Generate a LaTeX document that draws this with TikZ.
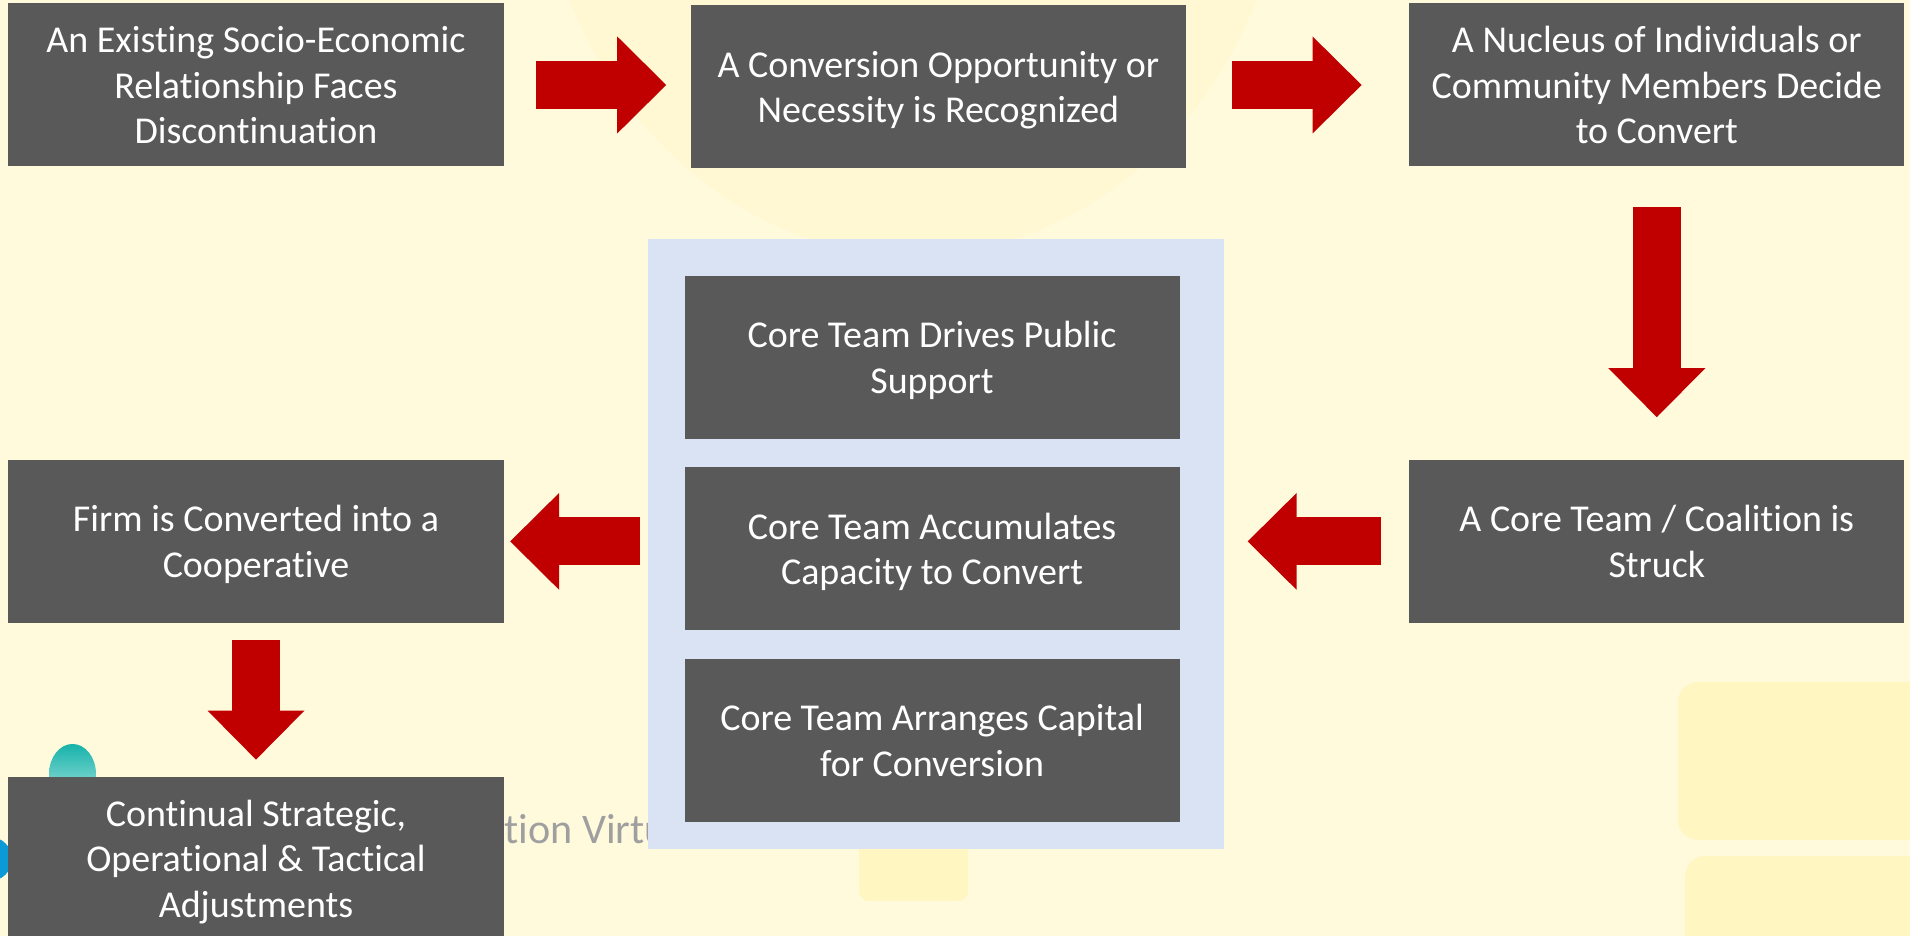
\documentclass[tikz,border=0pt]{standalone}
\usepackage{fontspec}
\setmainfont{Carlito}[Ligatures=NoCommon]
\usetikzlibrary{positioning,calc,arrows.meta}

\definecolor{boxgrey}{HTML}{595959}
\definecolor{flowred}{HTML}{C00000}
\definecolor{panelblue}{HTML}{DAE3F3}
\definecolor{slidebg}{HTML}{FFFADC}
\definecolor{slideshade}{HTML}{FFF6C2}
\definecolor{logoteal}{HTML}{16B3AA}
\definecolor{logoblue}{HTML}{0C9AD6}

\tikzset{
  stage/.style={rectangle, fill=boxgrey, text=white, align=center, inner sep=0pt, text depth=0pt,
    minimum width=4.95cm, minimum height=1.63cm, font=\fontsize{10.8}{12.9}\selectfont},
  % rect cap tucks the shaft under the head; the tail gap below allows for its extra 0.24cm
  flow/.style={draw=flowred, line width=0.48cm, line cap=rect,
    -{Triangle[width=0.97cm, length=0.49cm, line width=0pt]}},
  panel/.style={rectangle, fill=panelblue, inner sep=0pt,
    minimum width=5.76cm, minimum height=6.10cm}
}

\begin{document}
\begin{tikzpicture}[node distance=2.92cm and 1.86cm]
    \useasboundingbox (0,0) rectangle (19.10,9.36);
    \fill[slidebg] (0,0) rectangle (19.10,9.36);

    % slide backdrop
    \begin{scope}
      \clip (0,0) rectangle (19.10,9.36);
      \fill[slideshade!40!slidebg] (9.13,11.19) ellipse (3.78 and 4.38);
      \fill[slideshade, rounded corners=0.2cm] (16.78,0.96) rectangle (19.30,2.54);
      \fill[slideshade, rounded corners=0.2cm] (16.85,-0.2) rectangle (19.30,0.80);
      \fill[slideshade, rounded corners=0.1cm] (8.59,0.35) rectangle (9.68,1.00);
      \shade[top color=logoteal, bottom color=logoteal!35] (0.725,1.62) ellipse (0.235 and 0.30);
      \fill[logoblue] (-0.10,0.77) circle (0.22);
      \node[anchor=base west, inner sep=0pt, text=gray!75, font=\fontsize{12}{12}\selectfont] (tag) at (5.04,0.92) {tion Virtu};
    \end{scope}

    % outer ring of stages
    \node[stage] (exist) at (2.56,8.51) {An Existing Socio-Economic\\Relationship Faces\\Discontinuation};
    \node[stage, right=of exist, yshift=-0.02cm] (recog) {A Conversion Opportunity or\\Necessity is Recognized};
    \node[stage, right=2.22cm of recog, yshift=0.02cm] (nucleus) {A Nucleus of Individuals or\\Community Members Decide\\to Convert};
    \node[stage, below=of nucleus] (coal) {A Core Team / Coalition is\\Struck};
    \node[stage, below=of exist] (firm) {Firm is Converted into a\\Cooperative};
    \node[stage, below=1.53cm of firm] (adjust) {Continual Strategic,\\Operational \& Tactical\\Adjustments};

    % core team block
    \node[panel] (core) at (9.36,3.92) {};
    \node[stage, below=0.37cm of core.north, xshift=-0.04cm] (core1) {Core Team Drives Public\\Support};
    \node[stage, below=0.27cm of core1] (core2) {Core Team Accumulates\\Capacity to Convert};
    \node[stage, below=0.27cm of core2] (core3) {Core Team Arranges Capital\\for Conversion};

    % block arrows between the stages
    \draw[flow, shorten <=0.56cm, shorten >=0.24cm] (exist) -- (exist -| recog.west);
    \draw[flow, shorten <=0.69cm, shorten >=0.47cm] (recog.east |- nucleus) -- (nucleus);
    \draw[flow, shorten <=0.64cm, shorten >=0.42cm] (nucleus) -- (coal);
    \draw[flow, shorten <=0.52cm, shorten >=0.23cm] (coal) -- (coal -| core.east);
    \draw[flow, shorten <=0.31cm, shorten >=0.06cm] (firm -| core.west) -- (firm);
    \draw[flow, shorten <=0.40cm, shorten >=0.17cm] (firm) -- (adjust);
\end{tikzpicture}
\end{document}
